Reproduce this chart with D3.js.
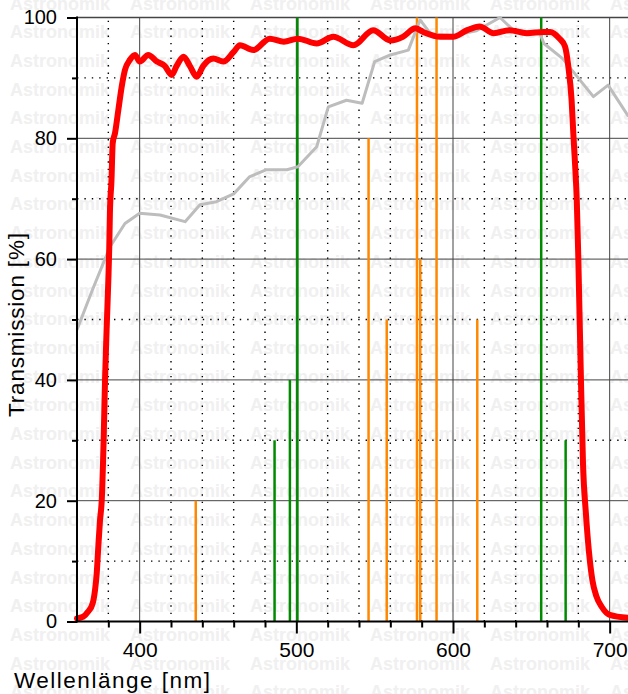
<!DOCTYPE html>
<html>
<head>
<meta charset="utf-8">
<script src="https://cdn.jsdelivr.net/npm/d3@7"></script>
<style>
  body { margin: 0; background: #fff; }
  svg { display: block; font-family: "Liberation Sans", Arial, sans-serif; }
</style>
</head>
<body>
<div id="chart"></div>
<script>
// filter curve (red)
const filterWl = [360, 364, 367, 370, 371.5, 372.6, 373.6, 374.7, 375.8, 377, 377.9, 378.9, 380, 380.6, 381, 382, 382.8, 384.3, 386.4, 388.5, 390.6, 393.8, 397, 400, 405.5, 411, 416, 420.4, 423.6, 428, 432, 436.4, 440.6, 447, 453.4, 460, 464, 472.5, 483, 492, 501, 513, 523.6, 536.4, 549, 560, 568, 576, 581, 592, 600, 609, 617, 626, 636, 647, 658, 662, 668, 671.5, 673.6, 675.7, 676.8, 678, 679, 680, 681.5, 683, 684.8, 686.8, 689, 691.5, 695, 700, 712];
const filterT = [0.5, 0.8, 1.6, 3, 5.2, 8, 12.4, 16.8, 20.1, 30, 40, 48.3, 56.5, 62, 67.6, 73, 79.2, 80.9, 84.7, 88.5, 91.3, 93, 93.8, 92.7, 93.8, 92.7, 92, 90.5, 92, 93.5, 92, 90.2, 92, 93.2, 92.7, 94.3, 95.4, 94.6, 96.5, 96, 96.5, 95.7, 96.8, 95.4, 97.9, 96.2, 96.8, 98.2, 97.6, 96.8, 96.8, 97.9, 98.5, 97.4, 97.9, 97.4, 97.6, 97.6, 96.5, 95.2, 91.9, 86.3, 80.8, 75.3, 69.8, 60, 42, 26, 18, 11.5, 6.8, 4.2, 2.4, 1.1, 0.6];

// comparison curve (grey)
const refWl = [360, 370, 381, 390.6, 400, 413, 429, 438.5, 449, 460, 470, 481, 494, 501, 513, 520.4, 532, 542, 550, 560, 571.5, 579, 586, 600, 615, 630, 638.5, 655.5, 658, 670, 689.6, 699, 712];
const refT = [48.3, 55, 62, 65.9, 67.6, 67.3, 66.2, 69, 69.5, 70.8, 73.6, 74.8, 74.8, 75.3, 78.6, 85.2, 86.3, 85.8, 92.7, 93.8, 94.6, 99.6, 97.2, 97, 97.8, 100, 97.9, 97.4, 95.7, 93.2, 86.9, 88.8, 83.6];

// emission lines
const orangeWl = [435.8, 546.1, 557.7, 577.0, 579.1, 589.5, 615.5];
const orangeT = [20, 80, 50, 100, 60, 100, 50];
const greenWl = [486.1, 495.9, 500.7, 656.3, 671.9];
const greenT = [30, 40, 100, 100, 30];

// ticks
const xMajor = [400, 500, 600, 700];
const xMinor = [380, 420, 440, 460, 480, 520, 540, 560, 580, 620, 640, 660, 680, 720];
const yMajor = [0, 20, 40, 60, 80, 100];
const yMinor = [10, 30, 50, 70, 90];

const width = 628, height = 694;
const svg = d3.select('#chart').append('svg')
  .attr('width', width)
  .attr('height', height);

svg.append('rect').attr('width', width).attr('height', height).attr('fill', '#fff');

// watermark
const wm = svg.append('g').attr('fill', '#f0f0f0')
  .attr('font-weight', 'bold').attr('font-size', 18);
d3.range(0, 25).forEach(r => {
  d3.range(0, 6).forEach(c => {
    wm.append('text').attr('x', 10 + c * 120).attr('y', 9.5 + r * 28.7).text('Astronomik');
  });
});

const x = d3.scaleLinear().domain([360, 720]).range([77, 641]);
const y = d3.scaleLinear().domain([0, 100]).range([621.5, 17.5]);

// grid
const grid = svg.append('g');
grid.selectAll('.vmin').data(xMinor).join('line')
  .attr('x1', d => x(d)).attr('x2', d => x(d))
  .attr('y1', y(0)).attr('y2', y(100))
  .attr('stroke', '#000').attr('stroke-width', 1.4).attr('stroke-dasharray', '1.4,6');
grid.selectAll('.hmin').data(yMinor).join('line')
  .attr('x1', x(360)).attr('x2', width)
  .attr('y1', d => y(d)).attr('y2', d => y(d))
  .attr('stroke', '#000').attr('stroke-width', 1.4).attr('stroke-dasharray', '1.4,6');
grid.selectAll('.vmaj').data(xMajor).join('line')
  .attr('x1', d => x(d)).attr('x2', d => x(d))
  .attr('y1', y(0)).attr('y2', y(100))
  .attr('stroke', '#444').attr('stroke-width', 1);
grid.selectAll('.hmaj').data(yMajor.slice(1)).join('line')
  .attr('x1', x(360)).attr('x2', width)
  .attr('y1', d => y(d)).attr('y2', d => y(d))
  .attr('stroke', '#444').attr('stroke-width', d => d === 100 ? 1.5 : 1);

// emission lines
const orange = orangeWl.map((w, i) => ({w: w, t: orangeT[i]}));
const green = greenWl.map((w, i) => ({w: w, t: greenT[i]}));
svg.append('g').selectAll('line').data(orange).join('line')
  .attr('x1', d => x(d.w)).attr('x2', d => x(d.w))
  .attr('y1', y(0)).attr('y2', d => y(d.t))
  .attr('stroke', '#ff8800').attr('stroke-width', 2.5);
svg.append('g').selectAll('line').data(green).join('line')
  .attr('x1', d => x(d.w)).attr('x2', d => x(d.w))
  .attr('y1', y(0)).attr('y2', d => y(d.t))
  .attr('stroke', '#008a00').attr('stroke-width', 2.5);

// curves
const line = d3.line().x(d => x(d[0])).y(d => y(d[1]));
svg.append('path')
  .datum(refWl.map((w, i) => [w, refT[i]]))
  .attr('d', line)
  .attr('fill', 'none').attr('stroke', '#bdbdbd').attr('stroke-width', 3)
  .attr('stroke-linejoin', 'round');
svg.append('path')
  .datum(filterWl.map((w, i) => [w, filterT[i]]))
  .attr('d', line.curve(d3.curveMonotoneX))
  .attr('fill', 'none').attr('stroke', '#ff0000').attr('stroke-width', 6)
  .attr('stroke-linejoin', 'round').attr('stroke-linecap', 'round');

// axes
const yAxis = svg.append('g').attr('transform', `translate(${x(360)},0)`)
  .call(d3.axisLeft(y).tickValues(yMajor).tickSize(10).tickPadding(10).tickFormat(d3.format('d')));
svg.append('g').attr('transform', `translate(${x(360)},0)`)
  .call(d3.axisLeft(y).tickValues(yMinor).tickSize(5).tickFormat(''));
const xAxis = svg.append('g').attr('transform', `translate(0,${y(0)})`)
  .call(d3.axisBottom(x).tickValues(xMajor).tickSize(12).tickPadding(9).tickFormat(d3.format('d')));
svg.append('g').attr('transform', `translate(0,${y(0)})`)
  .call(d3.axisBottom(x).tickValues(xMinor).tickSize(6).tickFormat(''));

svg.selectAll('.domain').remove();
svg.selectAll('.tick line').attr('stroke', '#000').attr('stroke-width', 2);
svg.selectAll('.tick text').attr('fill', '#000').attr('font-family', '"Liberation Sans", Arial, sans-serif');
yAxis.selectAll('text').attr('font-size', 20);
xAxis.selectAll('text').attr('font-size', 21);

svg.append('line').attr('x1', x(360)).attr('x2', x(360)).attr('y1', y(100) - 1).attr('y2', y(0) + 1)
  .attr('stroke', '#000').attr('stroke-width', 2);
svg.append('line').attr('x1', x(360) - 1).attr('x2', width).attr('y1', y(0)).attr('y2', y(0))
  .attr('stroke', '#000').attr('stroke-width', 2);

// titles
svg.append('text').attr('x', 14).attr('y', 688).attr('font-size', 22.5).attr('fill', '#000')
  .attr('textLength', 196).attr('lengthAdjust', 'spacing')
  .text('Wellenlänge [nm]');
svg.append('text').attr('transform', 'translate(24,325) rotate(-90)')
  .attr('text-anchor', 'middle').attr('font-size', 22.5).attr('fill', '#000')
  .attr('textLength', 184).attr('lengthAdjust', 'spacing')
  .text('Transmission [%]');
</script>
</body>
</html>
